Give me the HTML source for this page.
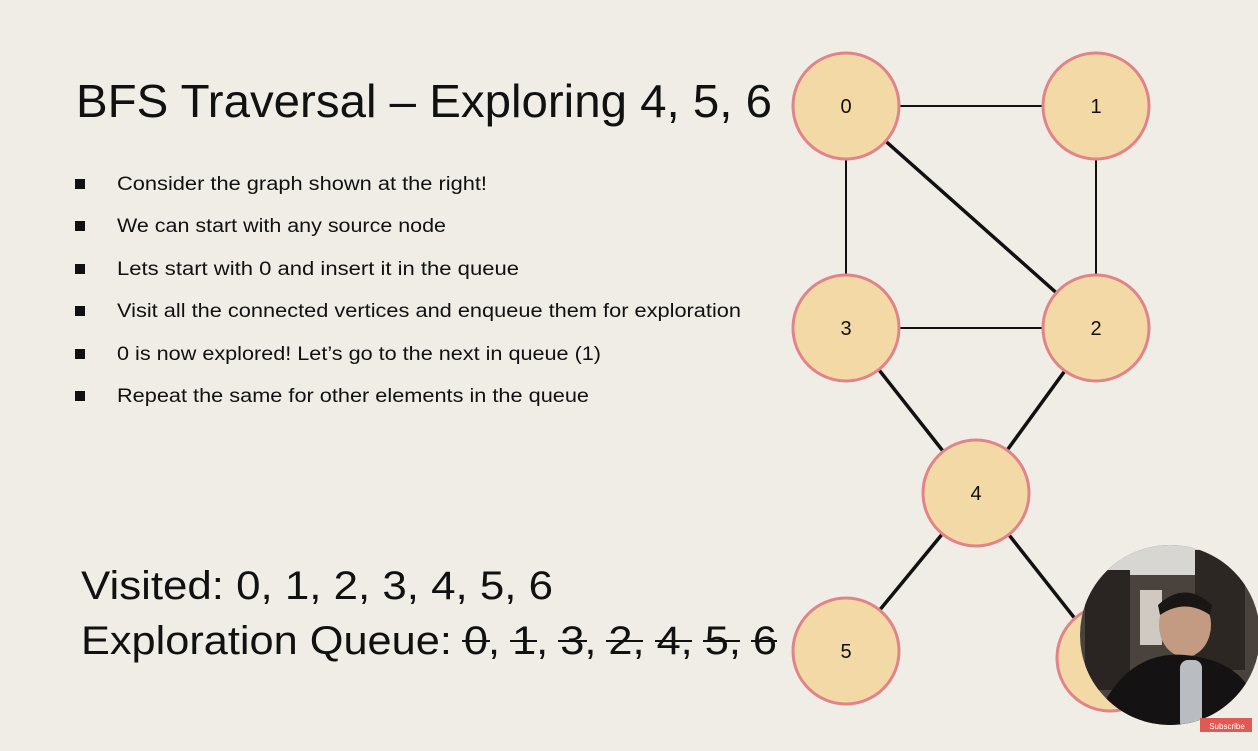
<!DOCTYPE html>
<html><head><meta charset="utf-8"><style>
html,body{margin:0;padding:0;background:#efede5;}
svg{display:block;}
text{font-family:"Liberation Sans",sans-serif;fill:#111;}
</style></head><body>
<svg width="1258" height="751" viewBox="0 0 1258 751" xmlns="http://www.w3.org/2000/svg">
<defs><clipPath id="cam"><circle cx="1170" cy="635" r="90"/></clipPath></defs>
<rect width="1258" height="751" fill="#efede5"/>
<text x="76" y="117" font-size="46" textLength="696" lengthAdjust="spacingAndGlyphs">BFS Traversal – Exploring 4, 5, 6</text>
<g font-size="19">
<rect x="75" y="179" width="10" height="10" fill="#111"/>
<text x="117" y="190" textLength="370" lengthAdjust="spacingAndGlyphs">Consider the graph shown at the right!</text>
<rect x="75" y="221" width="10" height="10" fill="#111"/>
<text x="117" y="232" textLength="329" lengthAdjust="spacingAndGlyphs">We can start with any source node</text>
<rect x="75" y="264" width="10" height="10" fill="#111"/>
<text x="117" y="275" textLength="402" lengthAdjust="spacingAndGlyphs">Lets start with 0 and insert it in the queue</text>
<rect x="75" y="306" width="10" height="10" fill="#111"/>
<text x="117" y="317" textLength="624" lengthAdjust="spacingAndGlyphs">Visit all the connected vertices and enqueue them for exploration</text>
<rect x="75" y="349" width="10" height="10" fill="#111"/>
<text x="117" y="360" textLength="484" lengthAdjust="spacingAndGlyphs">0 is now explored! Let’s go to the next in queue (1)</text>
<rect x="75" y="391" width="10" height="10" fill="#111"/>
<text x="117" y="402" textLength="472" lengthAdjust="spacingAndGlyphs">Repeat the same for other elements in the queue</text>
</g>
<text x="81" y="599" font-size="40" textLength="472" lengthAdjust="spacingAndGlyphs">Visited: 0, 1, 2, 3, 4, 5, 6</text>
<text x="81" y="654" font-size="40" textLength="696" lengthAdjust="spacingAndGlyphs">Exploration Queue: 0, 1, 3, 2, 4, 5, 6</text>
<g stroke="#111" stroke-width="2">
<line x1="462" y1="641" x2="490" y2="641"/>
<line x1="510" y1="641" x2="537" y2="641"/>
<line x1="558" y1="641" x2="587" y2="641"/>
<line x1="606" y1="641" x2="643" y2="641"/>
<line x1="655" y1="641" x2="692" y2="641"/>
<line x1="703" y1="641" x2="740" y2="641"/>
<line x1="751" y1="641" x2="777" y2="641"/>
</g>
<g stroke="#111">
<line x1="846" y1="106" x2="1096" y2="106" stroke-width="2"/>
<line x1="846" y1="106" x2="846" y2="328" stroke-width="2"/>
<line x1="1096" y1="106" x2="1096" y2="328" stroke-width="2"/>
<line x1="846" y1="328" x2="1096" y2="328" stroke-width="2"/>
<line x1="846" y1="106" x2="1096" y2="328" stroke-width="3.5"/>
<line x1="846" y1="328" x2="976" y2="493" stroke-width="3.5"/>
<line x1="1096" y1="328" x2="976" y2="493" stroke-width="3.5"/>
<line x1="976" y1="493" x2="846" y2="651" stroke-width="3.5"/>
<line x1="976" y1="493" x2="1106" y2="658" stroke-width="3.5"/>
</g>
<g fill="#f2d9a6" stroke="#e0848a" stroke-width="3">
<circle cx="846" cy="106" r="53"/>
<circle cx="1096" cy="106" r="53"/>
<circle cx="846" cy="328" r="53"/>
<circle cx="1096" cy="328" r="53"/>
<circle cx="976" cy="493" r="53"/>
<circle cx="846" cy="651" r="53"/>
<circle cx="1110" cy="658" r="53"/>
</g>
<g font-size="20" text-anchor="middle">
<text x="846" y="113">0</text>
<text x="1096" y="113">1</text>
<text x="846" y="335">3</text>
<text x="1096" y="335">2</text>
<text x="976" y="500">4</text>
<text x="846" y="658">5</text>
</g>
<g clip-path="url(#cam)">
<rect x="1080" y="545" width="180" height="180" fill="#4a423d"/>
<rect x="1080" y="545" width="180" height="30" fill="#d8d6d2"/>
<rect x="1085" y="570" width="45" height="120" fill="#2a2522"/>
<rect x="1140" y="590" width="22" height="55" fill="#cfc9c2"/>
<rect x="1195" y="550" width="50" height="120" fill="#2d2724"/>
<ellipse cx="1185" cy="625" rx="26" ry="32" fill="#c39a82"/>
<path d="M1158 605 Q1185 580 1212 605 L1210 615 Q1185 598 1160 615Z" fill="#1a1614"/>
<path d="M1100 710 Q1130 650 1185 655 Q1240 660 1255 700 L1255 730 L1100 730Z" fill="#141212"/>
<rect x="1180" y="660" width="22" height="70" rx="8" fill="#b9bcc0"/>
</g>
<rect x="1200" y="718" width="52" height="14" fill="#e05a55"/>
<text x="1227" y="729" font-size="8" text-anchor="middle" style="fill:#fff">Subscribe</text>
</svg>
</body></html>
